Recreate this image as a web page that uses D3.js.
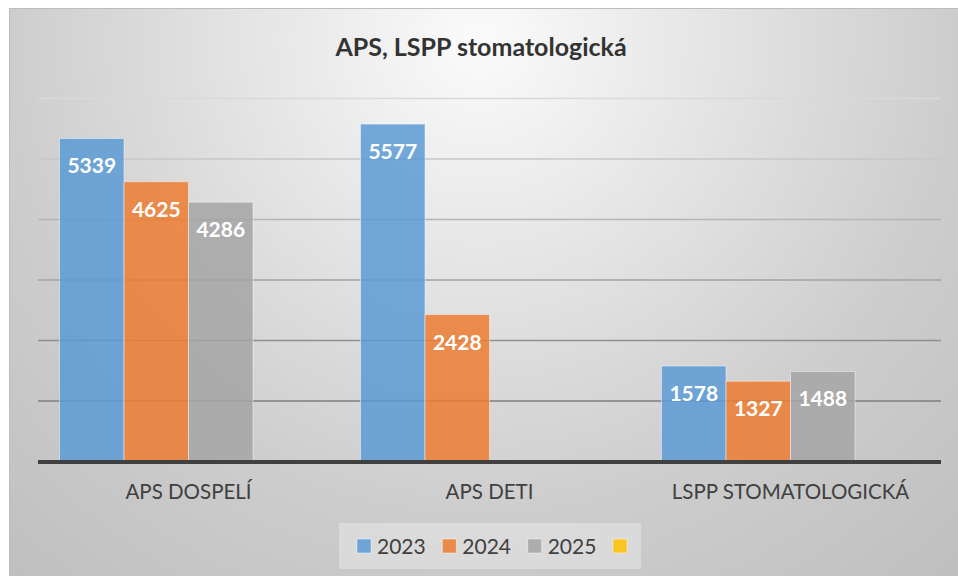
<!DOCTYPE html>
<html>
<head>
<meta charset="utf-8">
<script src="https://cdn.jsdelivr.net/npm/d3@7"></script>
<style>
  body { margin: 0; background: #fff; }
  svg { display: block; }
  text { font-family: Lato, "Open Sans", sans-serif; }
</style>
</head>
<body>
<svg class="chart" width="958" height="576"></svg>
<script>
const categories = ['APS DOSPELÍ', 'APS DETI', 'LSPP STOMATOLOGICKÁ'];
const seriesNames = ['2023', '2024', '2025', ''];
const values2023 = [5339, 5577, 1578];
const values2024 = [4625, 2428, 1327];
const values2025 = [4286, null, 1488];
const valuesEmpty = [null, null, null];
const seriesColors = ['#5B9BD5', '#ED7D31', '#A5A5A5', '#FFC000'];
const yTicks = [0, 1000, 2000, 3000, 4000, 5000, 6000];
const title = 'APS, LSPP stomatologická';

const seriesValues = [values2023, values2024, values2025, valuesEmpty];

const chart = d3.select('.chart');
const width = +chart.attr('width');
const height = +chart.attr('height');

// background gradient like the Excel style
const defs = chart.append('defs');
const grad = defs.append('radialGradient')
    .attr('id', 'bg')
    .attr('gradientUnits', 'userSpaceOnUse')
    .attr('cx', 480).attr('cy', 40).attr('r', 720);
grad.append('stop').attr('offset', 0).attr('stop-color', '#fbfbfb');
grad.append('stop').attr('offset', 0.66).attr('stop-color', '#cdcdcd');
grad.append('stop').attr('offset', 1).attr('stop-color', '#bfbfbf');

chart.append('rect')
    .attr('x', 9.5).attr('y', 8.5)
    .attr('width', width).attr('height', height)
    .attr('fill', 'url(#bg)')
    .attr('stroke', '#bdbdbd');

chart.append('text')
    .attr('x', 481).attr('y', 56)
    .attr('text-anchor', 'middle')
    .attr('font-size', 25).attr('font-weight', 'bold')
    .attr('fill', '#333333')
    .text(title);

const margin = { left: 38, right: 17, top: 98.5, bottom: 114.5 };
const innerLeft = margin.left;
const innerRight = width - margin.right;

const x0 = d3.scaleBand()
    .domain(categories)
    .range([innerLeft, innerRight]);

const x1 = d3.scaleBand()
    .domain(seriesNames)
    .range([0, x0.bandwidth()])
    .paddingOuter(1 / 3);

const y = d3.scaleLinear()
    .domain([0, 6000])
    .range([height - margin.bottom, margin.top]);

const gridColor = d3.scaleLinear()
    .domain([1000, 6000])
    .range(['#7e7e7e', '#d9d9d9']);

chart.append('g').selectAll('line')
    .data(yTicks.filter(t => t > 0))
    .enter().append('line')
    .attr('x1', innerLeft).attr('x2', innerRight)
    .attr('y1', d => y(d)).attr('y2', d => y(d))
    .attr('stroke', d => gridColor(d))
    .attr('stroke-width', 1.5);

const rows = [];
categories.forEach((c, i) => {
    seriesNames.forEach((s, j) => {
        const v = seriesValues[j][i];
        if (v != null) rows.push({ category: c, series: s, value: v, color: seriesColors[j] });
    });
});

const bars = chart.append('g');
bars.selectAll('rect').data(rows)
    .enter().append('rect')
    .attr('x', d => x0(d.category) + x1(d.series))
    .attr('y', d => y(d.value))
    .attr('width', x1.bandwidth())
    .attr('height', d => y(0) - y(d.value))
    .attr('fill', d => d.color)
    .attr('fill-opacity', 0.85)
    .attr('stroke', '#ffffff')
    .attr('stroke-opacity', 0.45)
    .attr('stroke-width', 1);

bars.selectAll('text').data(rows)
    .enter().append('text')
    .attr('x', d => x0(d.category) + x1(d.series) + x1.bandwidth() / 2)
    .attr('y', d => y(d.value) + 35)
    .attr('text-anchor', 'middle')
    .attr('font-size', 21).attr('font-weight', 'bold')
    .attr('fill', '#ffffff')
    .text(d => d.value);

// category axis
const xAxis = chart.append('g')
    .attr('transform', `translate(0,${y(0)})`)
    .call(d3.axisBottom(x0).tickSize(0).tickPadding(0));
xAxis.select('.domain')
    .attr('d', `M${innerLeft},0.5H${innerRight}`)
    .attr('stroke', '#404040')
    .attr('stroke-width', 4);
xAxis.selectAll('.tick text')
    .attr('y', 37.5)
    .attr('dy', 0)
    .attr('font-size', 20.5)
    .attr('font-family', 'Lato, sans-serif')
    .attr('fill', '#404040');

// legend
const legend = chart.append('g');
legend.append('rect')
    .attr('x', 339).attr('y', 523)
    .attr('width', 302).attr('height', 46)
    .attr('fill', '#ffffff')
    .attr('fill-opacity', 0.3);

const legendX = d3.scalePoint()
    .domain(seriesNames)
    .range([357, 613]);

const item = legend.selectAll('g.item').data(seriesNames)
    .enter().append('g')
    .attr('class', 'item')
    .attr('transform', d => `translate(${legendX(d)},539)`);
item.append('rect')
    .attr('width', 14).attr('height', 14)
    .attr('fill', (d, i) => seriesColors[i])
    .attr('fill-opacity', 0.85)
    .attr('stroke', '#ffffff')
    .attr('stroke-opacity', 0.45);
item.append('text')
    .attr('x', 20).attr('y', 15)
    .attr('font-size', 21)
    .attr('fill', '#404040')
    .text(d => d);
</script>
</body>
</html>
